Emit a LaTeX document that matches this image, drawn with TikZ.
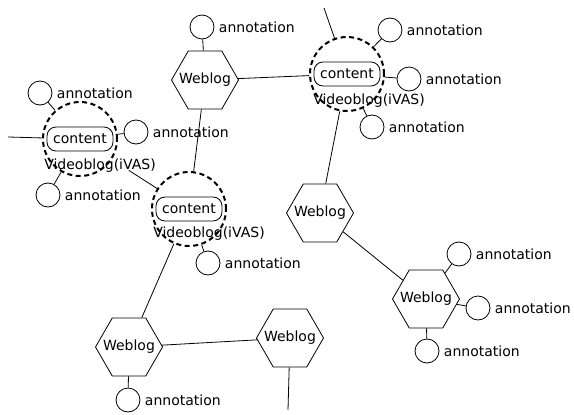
\documentclass[tikz,border=0pt]{standalone}
\usepackage{fontspec}
\setmainfont{DejaVu Sans}
\usetikzlibrary{shapes.geometric}

\begin{document}
\begin{tikzpicture}
		[x=1pt,y=-1pt,
		every node/.style={font=\fontsize{14}{16}\selectfont},
		weblog/.style={regular polygon,regular polygon sides=6,draw,line width=0.8pt,inner sep=-12pt,minimum size=67pt},
		vblog/.style={circle,draw,line width=2pt,dash pattern=on 5pt off 3.5pt,inner sep=0pt,minimum size=74pt},
		content/.style={draw,line width=0.8pt,rounded corners=9pt,inner sep=1pt,minimum width=66pt,minimum height=24pt},
		annot/.style={circle,draw,line width=0.8pt,inner sep=0pt,minimum size=24pt,label={[label distance=1pt]right:annotation}},
		link/.style={line width=0.8pt}]
		\useasboundingbox (0,0) rectangle (574,415);

		% draw the weblogs
		\node [weblog] (wbT) at (205,80) {Weblog};
		\node [weblog] (wbM) at (320,213) {Weblog};
		\node [weblog] (wbR) at (426,299) {Weblog};
		\node [weblog] (wbBL) at (129,347) {Weblog};
		\node [weblog] (wbBM) at (290,338) {Weblog};

		% draw the videoblogs with their content
		\node [vblog] (vbL) at (80,139) {};
		\node [content] (cL) at (vbL) {content};
		\node (tL) at (100,166) {Videoblog(iVAS)};
		\node [vblog] (vbM) at (189,209) {};
		\node [content] (cM) at (vbM) {content};
		\node (tM) at (209,234) {Videoblog(iVAS)};
		\node [vblog] (vbT) at (347,74) {};
		\node [content] (cT) at (vbT) {content};
		\node (tT) at (369,101) {Videoblog(iVAS)};

		% draw the annotations
		\node [annot] (aT1) at (202,27) {};
		\node [annot] (aL1) at (40,93) {};
		\node [annot] (aL2) at (136,132) {};
		\node [annot] (aL3) at (48,195) {};
		\node [annot] (aM1) at (208,263) {};
		\node [annot] (aT2) at (390,30) {};
		\node [annot] (aT3) at (409,79) {};
		\node [annot] (aT4) at (372,127) {};
		\node [annot] (aR1) at (459,254) {};
		\node [annot] (aR2) at (478,308) {};
		\node [annot] (aR3) at (427,351) {};
		\node [annot] (aBL) at (128,400) {};

		% free ends
		\coordinate (endL) at (8,137);
		\coordinate (endT) at (324,8);
		\coordinate (endB) at (288,410);

		% draw the links
		\draw [link] (wbT) -- (vbT);
		\draw [link] (wbT) -- (vbM);
		\draw [link,shorten <=20pt] (vbL) -- (vbM);
		\draw [link] (vbM) -- (wbBL);
		\draw [link] (wbBL) -- (wbBM);
		\draw [link] (wbBM) -- (endB);
		\draw [link] (endL) -- (vbL);
		\draw [link] (endT) -- (vbT);
		\draw [link] (vbT) -- (wbM);
		\draw [link] (wbM) -- (wbR);

		% link the annotations
		\draw [link] (wbT) -- (aT1);
		\draw [link] (vbL) -- (aL1);
		\draw [link] (vbL) -- (aL2);
		\draw [link] (vbL) -- (aL3);
		\draw [link] (vbM) -- (aM1);
		\draw [link] (vbT) -- (aT2);
		\draw [link] (vbT) -- (aT3);
		\draw [link] (vbT) -- (aT4);
		\draw [link] (wbR) -- (aR1);
		\draw [link] (wbR) -- (aR2);
		\draw [link] (wbR) -- (aR3);
		\draw [link] (wbBL) -- (aBL);
	\end{tikzpicture}
\end{document}
